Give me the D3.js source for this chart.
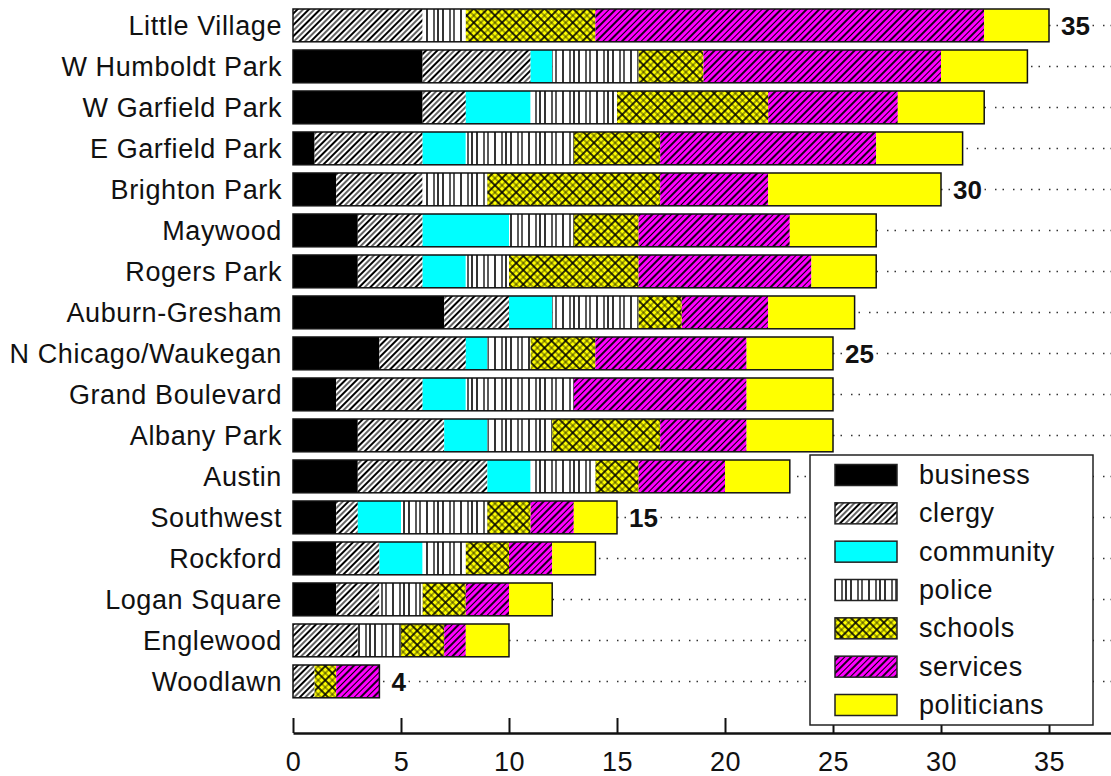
<!DOCTYPE html>
<html lang="en">
<head>
    <meta charset="UTF-8">
    <title>Partners by community</title>
    <script src="https://d3js.org/d3.v7.min.js"></script>
    <style>
        body { margin: 0; background: #fff; }
        svg { display: block; font-family: "Liberation Sans", Arial, sans-serif; }
    </style>
</head>
<body>
    <svg id="chart" width="1111" height="776"></svg>
    <script>
        const categories = ["Little Village", "W Humboldt Park", "W Garfield Park", "E Garfield Park",
            "Brighton Park", "Maywood", "Rogers Park", "Auburn-Gresham", "N Chicago/Waukegan",
            "Grand Boulevard", "Albany Park", "Austin", "Southwest", "Rockford", "Logan Square",
            "Englewood", "Woodlawn"];
        const business    = [0, 6, 6, 1, 2, 3, 3, 7, 4, 2, 3, 3, 2, 2, 2, 0, 0];
        const clergy      = [6, 5, 2, 5, 4, 3, 3, 3, 4, 4, 4, 6, 1, 2, 2, 3, 1];
        const community   = [0, 1, 3, 2, 0, 4, 2, 2, 1, 2, 2, 2, 2, 2, 0, 0, 0];
        const police      = [2, 4, 4, 5, 3, 3, 2, 4, 2, 5, 3, 3, 4, 2, 2, 2, 0];
        const schools     = [6, 3, 7, 4, 8, 3, 6, 2, 3, 0, 5, 2, 2, 2, 2, 2, 1];
        const services    = [18, 11, 6, 10, 5, 7, 8, 4, 7, 8, 4, 4, 2, 2, 2, 1, 2];
        const politicians = [3, 4, 4, 4, 8, 4, 3, 4, 4, 4, 4, 3, 2, 2, 2, 2, 0];

        const seriesNames = ["business", "clergy", "community", "police", "schools", "services", "politicians"];
        const xTicks = [0, 5, 10, 15, 20, 25, 30, 35];
        const noteCats = ["Little Village", "Brighton Park", "N Chicago/Waukegan", "Southwest", "Woodlawn"];
        const noteTexts = ["35", "30", "25", "15", "4"];

        const seriesValues = { business, clergy, community, police, schools, services, politicians };
        const table = categories.map((c, i) => {
            const row = { cat: c };
            seriesNames.forEach(k => row[k] = seriesValues[k][i]);
            row.total = d3.sum(seriesNames, k => row[k]);
            return row;
        });

        const svg = d3.select("#chart");
        const W = +svg.attr("width");

        const x = d3.scaleLinear().domain([0, 37.87]).range([293, W]);
        const y = d3.scaleBand().domain(categories).range([0.8, 706]).paddingInner(0.2).paddingOuter(0.2);

        // patterns
        const defs = svg.append("defs");
        function hatch(id, bg, size, lines, angle) {
            const p = defs.append("pattern").attr("id", id)
                .attr("patternUnits", "userSpaceOnUse")
                .attr("width", size).attr("height", size);
            if (angle) p.attr("patternTransform", `rotate(${angle})`);
            p.append("rect").attr("width", size).attr("height", size).attr("fill", bg);
            lines.forEach(l => {
                p.append("line").attr("x1", l[0]).attr("x2", l[0]).attr("y1", 0).attr("y2", size)
                    .attr("stroke", "#000").attr("stroke-width", l[1]);
                if (l[2]) p.append("line").attr("y1", l[0]).attr("y2", l[0]).attr("x1", 0).attr("x2", size)
                    .attr("stroke", "#000").attr("stroke-width", l[1]);
            });
        }
        hatch("p-clergy", "#fff", 8, [[1, 2], [5, 1.2]], 45);
        hatch("p-services", "#ff00ff", 9, [[1, 1.8], [5.5, 1]], 45);
        hatch("p-schools", "#ffff00", 10, [[1, 1.6, true], [6, 0.7, true]], 45);
        hatch("p-police", "#fff", 34, [[1, 1.6], [8, 1.3], [12, 1.3], [19, 1.6], [26, 1.3], [30, 1.6]], 0);

        const fills = {
            business: "#000", clergy: "url(#p-clergy)", community: "#00ffff",
            police: "url(#p-police)", schools: "url(#p-schools)", services: "url(#p-services)",
            politicians: "#ffff00"
        };

        // dotted row guides
        svg.append("g").selectAll("line")
            .data(categories)
            .join("line")
            .attr("x1", x(0)).attr("x2", W)
            .attr("y1", d => y(d) + y.bandwidth() / 2)
            .attr("y2", d => y(d) + y.bandwidth() / 2)
            .attr("stroke", "#333").attr("stroke-width", 1.5)
            .attr("stroke-dasharray", "1.5 6 1.5 9");

        // stacked bars
        const stacked = d3.stack().keys(seriesNames)(table);
        svg.append("g").selectAll("g")
            .data(stacked)
            .join("g")
            .attr("fill", d => fills[d.key])
            .selectAll("rect")
            .data(d => d.filter(s => s[1] > s[0]))
            .join("rect")
            .attr("x", d => x(d[0]))
            .attr("y", d => y(d.data.cat))
            .attr("width", d => x(d[1]) - x(d[0]))
            .attr("height", y.bandwidth());

        svg.append("g").selectAll("rect")
            .data(table)
            .join("rect")
            .attr("x", x(0))
            .attr("y", d => y(d.cat))
            .attr("width", d => x(d.total) - x(0))
            .attr("height", y.bandwidth())
            .attr("fill", "none")
            .attr("stroke", "#111")
            .attr("stroke-width", 1.5);

        // total notes
        svg.append("g").selectAll("text")
            .data(noteCats)
            .join("text")
            .attr("x", d => x(table.find(r => r.cat === d).total) + 12)
            .attr("y", d => y(d) + y.bandwidth() / 2)
            .attr("dy", "0.36em")
            .attr("font-size", 26)
            .attr("font-weight", "bold")
            .attr("fill", "#111")
            .attr("stroke", "#fff").attr("stroke-width", 6).attr("paint-order", "stroke")
            .text((d, i) => noteTexts[i]);

        // category labels
        svg.append("g").selectAll("text")
            .data(categories)
            .join("text")
            .attr("x", 282)
            .attr("y", d => y(d) + y.bandwidth() / 2)
            .attr("dy", "0.36em")
            .attr("text-anchor", "end")
            .attr("font-size", 27)
            .attr("letter-spacing", "0.6px")
            .attr("fill", "#111")
            .text(d => d);

        // x axis
        const axis = svg.append("g")
            .attr("transform", "translate(0,733)")
            .call(d3.axisBottom(x).tickValues(xTicks).tickSizeInner(-15).tickSizeOuter(0).tickPadding(19));
        axis.select(".domain").attr("stroke", "#111").attr("stroke-width", 2.5);
        axis.selectAll(".tick line").attr("stroke", "#111").attr("stroke-width", 2);
        axis.selectAll(".tick text").attr("font-size", 27).attr("fill", "#111")
            .attr("letter-spacing", "0.6px")
            .attr("font-family", "Liberation Sans, Arial, sans-serif");

        // legend
        const legendY = d3.scalePoint().domain(seriesNames).range([475, 705]);
        const legend = svg.append("g");
        legend.append("rect")
            .attr("x", 810).attr("y", 455).attr("width", 283).attr("height", 270)
            .attr("fill", "#fff").attr("stroke", "#222").attr("stroke-width", 1.5);
        const item = legend.selectAll("g.item")
            .data(seriesNames)
            .join("g").attr("class", "item")
            .attr("transform", d => `translate(0,${legendY(d)})`);
        item.append("rect")
            .attr("x", 835).attr("y", -10.5).attr("width", 62).attr("height", 21)
            .attr("fill", d => fills[d])
            .attr("stroke", "#222").attr("stroke-width", 1.5);
        item.append("text")
            .attr("x", 919).attr("dy", "0.33em")
            .attr("font-size", 27).attr("letter-spacing", "0.6px").attr("fill", "#111")
            .text(d => d);
    </script>
</body>
</html>
